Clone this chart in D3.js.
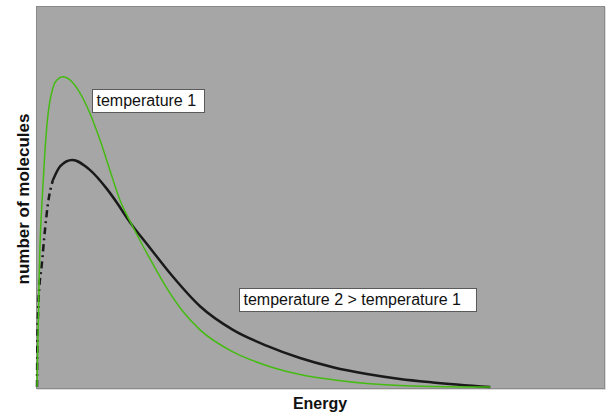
<!DOCTYPE html>
<html>
<head>
<meta charset="utf-8">
<script src="https://cdn.jsdelivr.net/npm/d3@7"></script>
<style>
  html, body { margin: 0; padding: 0; background: #ffffff; }
  svg { display: block; }
</style>
</head>
<body>
<svg id="chart" width="610" height="412"></svg>
<script>
// ---- data (arbitrary units) ----
const energyT1 = [0, 0.02, 0.05, 0.09, 0.14, 0.19, 0.28, 0.35, 0.46, 0.58, 0.70, 0.93, 1.11, 1.34, 1.46, 1.60, 1.69, 1.99, 2.29, 2.57, 2.87, 3.45, 4.05, 4.63, 5.21, 5.81, 6.39, 7.00, 7.98];
const countT1  = [0, 15, 36, 49, 62, 71, 78.5, 80.6, 81.4, 80.6, 78.5, 71.9, 64.8, 54.3, 49.1, 44.6, 42.0, 33.6, 25.8, 19.8, 15.0, 9.2, 5.6, 3.3, 1.9, 0.9, 0.4, 0.15, 0];

const energyT2 = [0, 0.005, 0.02, 0.04, 0.08, 0.14, 0.19, 0.28, 0.41, 0.62, 0.93, 1.23, 1.41, 1.60, 1.99, 2.39, 2.87, 3.45, 4.05, 4.63, 5.21, 5.81, 6.39, 6.97, 7.98];
const countT2  = [0, 10, 20, 26, 31.5, 41.2, 47.8, 54.3, 58.0, 59.6, 57.0, 52.0, 48.3, 44.0, 36.5, 29.0, 21.2, 15.0, 10.8, 7.6, 5.2, 3.4, 2.1, 1.2, 0];

const seriesLabels = ["temperature 1", "temperature 2 > temperature 1"];
const xTitle = "Energy";
const yTitle = "number of molecules";

// ---- layout ----
const svg = d3.select("#chart");
const plot = { left: 36, top: 6, right: 604, bottom: 388 };

const x = d3.scaleLinear().domain([0, 10]).range([37, 605]);
const y = d3.scaleLinear().domain([0, 100]).range([387, 6]);

// plot background with light shadow
svg.append("rect")
  .attr("x", plot.left + 1).attr("y", plot.top + 1)
  .attr("width", plot.right - plot.left + 1).attr("height", plot.bottom - plot.top + 1)
  .attr("fill", "#dcdcdc");
svg.append("rect")
  .attr("x", plot.left + 0.5).attr("y", plot.top + 0.5)
  .attr("width", plot.right - plot.left).attr("height", plot.bottom - plot.top)
  .attr("fill", "#a6a6a6").attr("stroke", "#8a8a8a").attr("stroke-width", 1);

const t1 = energyT1.map((e, i) => ({ e, c: countT1[i] }));
const t2 = energyT2.map((e, i) => ({ e, c: countT2[i] }));

const line = d3.line().x(d => x(d.e)).y(d => y(d.c)).curve(d3.curveMonotoneX);

// temperature 2: dash-dot on the steep rising part, solid after
const t2Rise = t2.filter(d => d.e <= 0.28);
const t2Rest = t2.filter(d => d.e >= 0.28);
svg.append("path").attr("d", line(t2Rise))
  .attr("fill", "none").attr("stroke", "#1a1a1a").attr("stroke-width", 2.5)
  .attr("stroke-dasharray", "7,4,2,4");
svg.append("path").attr("d", line(t2Rest))
  .attr("fill", "none").attr("stroke", "#1a1a1a").attr("stroke-width", 2.5)
  .attr("stroke-linejoin", "round");

// temperature 1: green
svg.append("path").attr("d", line(t1))
  .attr("fill", "none").attr("stroke", "#44bb11").attr("stroke-width", 1.5)
  .attr("stroke-linejoin", "round");

// labels with white boxes
function labelBox(text, bx, by, bw, bh) {
  const g = svg.append("g");
  g.append("rect").attr("x", bx + 0.5).attr("y", by + 0.5).attr("width", bw).attr("height", bh)
    .attr("fill", "#ffffff").attr("stroke", "#5a5a5a").attr("stroke-width", 1);
  g.append("text").attr("x", bx + 4.5).attr("y", by + bh / 2 + 5.5)
    .attr("font-family", "Liberation Sans, Arial, sans-serif").attr("font-size", 16)
    .attr("fill", "#111").text(text);
}
labelBox(seriesLabels[0], 92, 89, 112, 23);
labelBox(seriesLabels[1], 239, 288, 237, 23);

// axis titles
svg.append("text")
  .attr("x", (plot.left + plot.right) / 2).attr("y", 409)
  .attr("text-anchor", "middle")
  .attr("font-family", "Liberation Sans, Arial, sans-serif").attr("font-size", 16).attr("font-weight", "bold")
  .attr("fill", "#111").text(xTitle);
svg.append("text")
  .attr("transform", "translate(29," + 199 + ") rotate(-90)")
  .attr("text-anchor", "middle")
  .attr("font-family", "Liberation Sans, Arial, sans-serif").attr("font-size", 17).attr("font-weight", "bold")
  .attr("fill", "#111").text(yTitle);
</script>
</body>
</html>
